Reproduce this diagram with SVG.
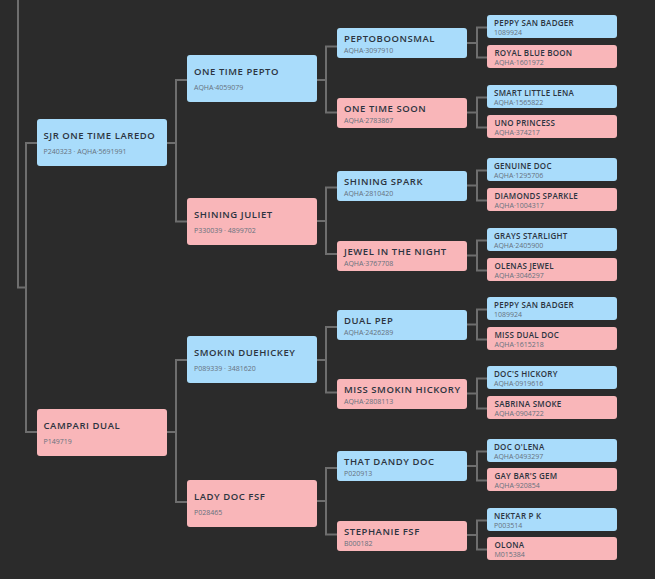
<svg xmlns="http://www.w3.org/2000/svg" width="655" height="579" viewBox="0 0 655 579">
<style>
.bg{fill:#2b2b2b}
.m{fill:#a9dcfb}
.f{fill:#f9b6b9}
.n{font-family:"Open Sans","Liberation Sans",sans-serif;font-weight:600;fill:#2c3440;font-size:9.5px;letter-spacing:0.55px}
.n4{font-family:"Open Sans","Liberation Sans",sans-serif;font-weight:600;fill:#2c3440;font-size:8px;letter-spacing:0.25px}
.s{font-family:"Open Sans","Liberation Sans",sans-serif;font-size:7px;fill:#66717d}
.c{fill:none;stroke:#6e6e6e;stroke-width:2}
</style>
<rect class="bg" x="0" y="0" width="655" height="579"/>
<g id="connectors" class="c">
<path d="M18,0V287.5H26"/>
<path d="M37,143H26V432H37"/>
<path d="M167,143H176M187,80H176V221.5H187"/>
<path d="M167,432H176M187,360H176V502H187"/>
<path d="M317,80H326M337,46.5H326V112.5H337"/>
<path d="M317,221H326M337,187.5H326V254H337"/>
<path d="M317,360H326M337,327H326V392.5H337"/>
<path d="M317,501H326M337,468H326V534.5H337"/>
<path d="M467,43H477M487,27.5H477V57.5H487"/>
<path d="M467,112.5H477M487,97.5H477V127.5H487"/>
<path d="M467,185.5H477M487,170.5H477V200.5H487"/>
<path d="M467,255.5H477M487,240.5H477V270.5H487"/>
<path d="M467,324.5H477M487,309.5H477V339.5H487"/>
<path d="M467,393.5H477M487,378.5H477V408.5H487"/>
<path d="M467,466H477M487,451.5H477V480.5H487"/>
<path d="M467,535H477M487,520.5H477V549.5H487"/>
</g>
<g id="n-sjr-one-time-laredo"><rect class="m" x="37" y="119" width="130" height="47" rx="3"/><text class="n" x="43.5" y="139">SJR ONE TIME LAREDO</text><text class="s" x="43.5" y="153.7">P240323 · AQHA·5691991</text></g>
<g id="n-campari-dual"><rect class="f" x="37" y="409" width="130" height="47" rx="3"/><text class="n" x="43.5" y="429">CAMPARI DUAL</text><text class="s" x="43.5" y="443.7">P149719</text></g>
<g id="n-one-time-pepto"><rect class="m" x="187" y="55" width="130" height="47" rx="3"/><text class="n" x="194" y="75">ONE TIME PEPTO</text><text class="s" x="194" y="89.5">AQHA·4059079</text></g>
<g id="n-shining-juliet"><rect class="f" x="187" y="198" width="130" height="47" rx="3"/><text class="n" x="194" y="218">SHINING JULIET</text><text class="s" x="194" y="232.5">P330039 · 4899702</text></g>
<g id="n-smokin-duehickey"><rect class="m" x="187" y="336" width="130" height="47" rx="3"/><text class="n" x="194" y="356">SMOKIN DUEHICKEY</text><text class="s" x="194" y="370.5">P089339 · 3481620</text></g>
<g id="n-lady-doc-fsf"><rect class="f" x="187" y="480" width="130" height="47" rx="3"/><text class="n" x="194" y="500">LADY DOC FSF</text><text class="s" x="194" y="514.5">P028465</text></g>
<g id="n-peptoboonsmal"><rect class="m" x="337" y="28" width="130" height="30" rx="3"/><text class="n" x="344" y="41.5">PEPTOBOONSMAL</text><text class="s" x="344" y="52.5">AQHA·3097910</text></g>
<g id="n-one-time-soon"><rect class="f" x="337" y="98" width="130" height="30" rx="3"/><text class="n" x="344" y="111.5">ONE TIME SOON</text><text class="s" x="344" y="122.5">AQHA·2783867</text></g>
<g id="n-shining-spark"><rect class="m" x="337" y="171" width="130" height="30" rx="3"/><text class="n" x="344" y="184.5">SHINING SPARK</text><text class="s" x="344" y="195.5">AQHA·2810420</text></g>
<g id="n-jewel-in-the-night"><rect class="f" x="337" y="241" width="130" height="30" rx="3"/><text class="n" x="344" y="254.5">JEWEL IN THE NIGHT</text><text class="s" x="344" y="265.5">AQHA·3767708</text></g>
<g id="n-dual-pep"><rect class="m" x="337" y="310" width="130" height="30" rx="3"/><text class="n" x="344" y="323.5">DUAL PEP</text><text class="s" x="344" y="334.5">AQHA·2426289</text></g>
<g id="n-miss-smokin-hickory"><rect class="f" x="337" y="379" width="130" height="30" rx="3"/><text class="n" x="344" y="392.5">MISS SMOKIN HICKORY</text><text class="s" x="344" y="403.5">AQHA·2808113</text></g>
<g id="n-that-dandy-doc"><rect class="m" x="337" y="451" width="130" height="30" rx="3"/><text class="n" x="344" y="464.5">THAT DANDY DOC</text><text class="s" x="344" y="475.5">P020913</text></g>
<g id="n-stephanie-fsf"><rect class="f" x="337" y="521" width="130" height="30" rx="3"/><text class="n" x="344" y="534.5">STEPHANIE FSF</text><text class="s" x="344" y="545.5">B000182</text></g>
<g id="n-peppy-san-badger-1"><rect class="m" x="487" y="15" width="130" height="23" rx="3"/><text class="n4" x="494" y="26">PEPPY SAN BADGER</text><text class="s" x="494" y="35">1089924</text></g>
<g id="n-royal-blue-boon"><rect class="f" x="487" y="45" width="130" height="23" rx="3"/><text class="n4" x="494.5" y="56">ROYAL BLUE BOON</text><text class="s" x="494.5" y="65">AQHA·1601972</text></g>
<g id="n-smart-little-lena"><rect class="m" x="487" y="85" width="130" height="23" rx="3"/><text class="n4" x="494" y="96">SMART LITTLE LENA</text><text class="s" x="494" y="105">AQHA·1565822</text></g>
<g id="n-uno-princess"><rect class="f" x="487" y="115" width="130" height="23" rx="3"/><text class="n4" x="494.5" y="126">UNO PRINCESS</text><text class="s" x="494.5" y="135">AQHA·374217</text></g>
<g id="n-genuine-doc"><rect class="m" x="487" y="158" width="130" height="23" rx="3"/><text class="n4" x="494" y="169">GENUINE DOC</text><text class="s" x="494" y="178">AQHA·1295706</text></g>
<g id="n-diamonds-sparkle"><rect class="f" x="487" y="188" width="130" height="23" rx="3"/><text class="n4" x="494.5" y="199">DIAMONDS SPARKLE</text><text class="s" x="494.5" y="208">AQHA·1004317</text></g>
<g id="n-grays-starlight"><rect class="m" x="487" y="228" width="130" height="23" rx="3"/><text class="n4" x="494" y="239">GRAYS STARLIGHT</text><text class="s" x="494" y="248">AQHA·2405900</text></g>
<g id="n-olenas-jewel"><rect class="f" x="487" y="258" width="130" height="23" rx="3"/><text class="n4" x="494.5" y="269">OLENAS JEWEL</text><text class="s" x="494.5" y="278">AQHA·3046297</text></g>
<g id="n-peppy-san-badger-2"><rect class="m" x="487" y="297" width="130" height="23" rx="3"/><text class="n4" x="494" y="308">PEPPY SAN BADGER</text><text class="s" x="494" y="317">1089924</text></g>
<g id="n-miss-dual-doc"><rect class="f" x="487" y="327" width="130" height="23" rx="3"/><text class="n4" x="494.5" y="338">MISS DUAL DOC</text><text class="s" x="494.5" y="347">AQHA·1615218</text></g>
<g id="n-docs-hickory"><rect class="m" x="487" y="366" width="130" height="23" rx="3"/><text class="n4" x="494" y="377">DOC'S HICKORY</text><text class="s" x="494" y="386">AQHA·0919616</text></g>
<g id="n-sabrina-smoke"><rect class="f" x="487" y="396" width="130" height="23" rx="3"/><text class="n4" x="494.5" y="407">SABRINA SMOKE</text><text class="s" x="494.5" y="416">AQHA·0904722</text></g>
<g id="n-doc-olena"><rect class="m" x="487" y="439" width="130" height="23" rx="3"/><text class="n4" x="494" y="450">DOC O'LENA</text><text class="s" x="494" y="459">AQHA·0493297</text></g>
<g id="n-gay-bars-gem"><rect class="f" x="487" y="468" width="130" height="23" rx="3"/><text class="n4" x="494.5" y="479">GAY BAR'S GEM</text><text class="s" x="494.5" y="488">AQHA·920854</text></g>
<g id="n-nektar-p-k"><rect class="m" x="487" y="508" width="130" height="23" rx="3"/><text class="n4" x="494" y="519">NEKTAR P K</text><text class="s" x="494" y="528">P003514</text></g>
<g id="n-olona"><rect class="f" x="487" y="537" width="130" height="23" rx="3"/><text class="n4" x="494.5" y="548">OLONA</text><text class="s" x="494.5" y="557">M015384</text></g>
</svg>
